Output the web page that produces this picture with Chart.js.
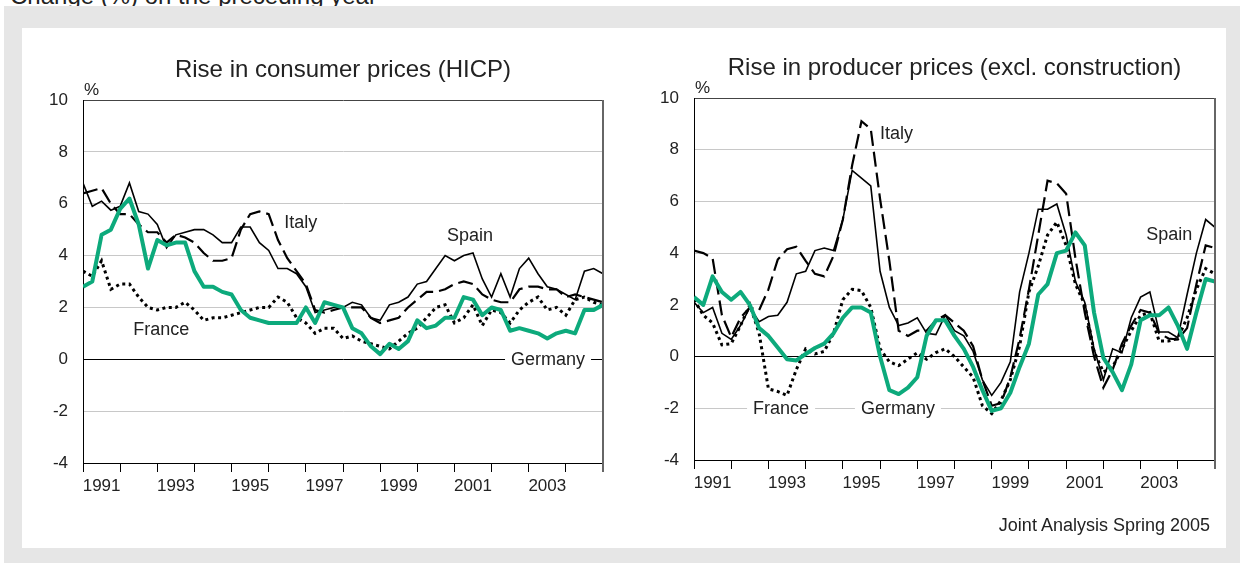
<!DOCTYPE html>
<html>
<head>
<meta charset="utf-8">
<title>Consumer and producer prices</title>
<script src="https://cdn.jsdelivr.net/npm/chart.js@4.4.0/dist/chart.umd.min.js"></script>
<style>
  body { margin: 0; background: #fff; font-family: "Liberation Sans", Arial, sans-serif; overflow: hidden; }
  #head { position: absolute; left: 10px; top: -16px; font-size: 24px; line-height: 24px; color: #222; white-space: nowrap; }
  #frame { position: absolute; left: 4px; top: 6px; width: 1236px; height: 557px; background: #e6e6e6; }
  #panel { position: absolute; left: 22px; top: 28px; width: 1204px; height: 520px; background: #fff; }
  canvas { position: absolute; }
  #hicp { left: 22px; top: 28px; }
  #ppi { left: 640px; top: 28px; }
  #note { position: absolute; left: 900px; width: 310px; top: 515px; line-height: 20px; text-align: right; font-size: 18px; color: #222; }
</style>
</head>
<body>
<div id="head">Change (%) on the preceding year</div>
<div id="frame"></div>
<div id="panel"></div>
<canvas id="hicp" width="618" height="520"></canvas>
<canvas id="ppi" width="582" height="520"></canvas>
<div id="note">Joint Analysis Spring 2005</div>
<script>
// quarterly readings, Q1 1991 .. Q1 2005 (57 values each)
var startYear = 1991;

// Rise in consumer prices (HICP)
var hicpGermany = [2.8,3.0,4.8,5.0,5.8,6.2,5.2,3.5,4.6,4.4,4.5,4.5,3.4,2.8,2.8,2.6,2.5,1.9,1.6,1.5,1.4,1.4,1.4,1.4,2.0,1.4,2.2,2.1,2.0,1.2,1.0,0.5,0.2,0.6,0.4,0.7,1.5,1.2,1.3,1.6,1.6,2.4,2.3,1.7,2.0,1.9,1.1,1.2,1.1,1.0,0.8,1.0,1.1,1.0,1.9,1.9,2.1];
var hicpSpain   = [6.8,5.9,6.1,5.75,5.9,6.8,5.7,5.6,5.2,4.3,4.8,4.9,5.0,5.0,4.8,4.5,4.5,5.1,5.1,4.5,4.2,3.5,3.5,3.3,2.8,1.8,1.9,2.0,2.0,2.2,2.1,1.6,1.5,2.1,2.2,2.4,2.9,3.0,3.5,4.0,3.8,4.0,4.1,3.1,2.4,3.3,2.4,3.5,3.9,3.3,2.8,2.7,2.5,2.3,3.4,3.5,3.3];
var hicpItaly   = [6.4,6.5,6.6,6.0,5.6,5.6,5.2,4.9,4.9,4.5,4.8,4.7,4.5,4.1,3.8,3.8,3.9,5.0,5.6,5.7,5.6,4.6,3.9,3.4,2.9,1.9,1.8,1.9,2.0,2.0,2.0,1.6,1.4,1.5,1.6,2.0,2.3,2.6,2.6,2.7,2.9,3.0,2.9,2.5,2.3,2.2,2.2,2.7,2.8,2.8,2.7,2.7,2.4,2.5,2.4,2.3,2.2];
var hicpFrance  = [3.4,3.2,3.8,2.7,2.9,2.9,2.4,2.0,1.9,2.0,2.0,2.2,1.9,1.5,1.6,1.6,1.7,1.8,1.9,2.0,2.0,2.4,2.2,1.6,1.4,1.0,1.2,1.2,0.8,0.9,0.7,0.6,0.5,0.4,0.7,1.0,1.2,1.6,2.0,2.1,1.4,1.6,2.1,1.3,1.9,1.8,1.4,1.9,2.2,2.4,1.9,2.0,1.7,2.3,2.4,2.2,2.1];

// Rise in producer prices (excl. construction)
var ppiGermany = [2.3,2.0,3.1,2.5,2.2,2.5,2.0,1.1,0.8,0.35,-0.1,-0.15,0.1,0.33,0.5,0.9,1.5,1.9,1.9,1.7,0.0,-1.3,-1.45,-1.2,-0.8,0.8,1.4,1.4,0.8,0.3,-0.4,-1.3,-2.1,-2.0,-1.4,-0.4,0.5,2.4,2.8,4.0,4.1,4.8,4.3,1.7,-0.05,-0.6,-1.3,-0.3,1.4,1.6,1.6,1.9,1.2,0.3,1.7,3.0,2.9];
var ppiSpain   = [2.1,1.7,1.9,0.9,0.66,1.2,1.9,1.35,1.55,1.6,2.1,3.2,3.3,4.1,4.2,4.1,5.3,7.2,6.9,6.6,3.3,1.9,1.2,1.3,1.5,0.9,0.85,1.6,1.0,0.8,0.2,-0.9,-1.5,-1.0,-0.2,2.5,4.0,5.7,5.7,5.9,4.7,2.9,2.1,0.3,-0.9,0.3,0.15,1.5,2.3,2.5,0.95,0.95,0.73,2.4,4.0,5.3,5.0];
var ppiItaly   = [4.1,4.0,3.8,1.6,0.75,1.5,1.9,1.8,2.6,3.75,4.15,4.25,3.7,3.2,3.1,3.9,5.3,7.4,9.1,8.8,6.1,3.7,1.0,0.8,1.0,1.0,1.4,1.6,1.3,1.0,0.4,-0.9,-1.9,-1.8,-0.8,0.7,2.6,4.7,6.8,6.7,6.3,3.8,1.7,0.0,-1.2,-0.5,0.5,1.2,1.8,1.7,0.9,0.7,0.66,1.1,2.8,4.3,4.2];
var ppiFrance  = [2.2,1.6,1.3,0.45,0.5,1.2,2.0,0.9,-1.25,-1.35,-1.5,-0.5,0.3,0.1,0.2,0.9,2.2,2.6,2.55,1.9,0.3,-0.2,-0.35,-0.1,0.15,-0.1,0.15,0.3,0.0,-0.4,-0.8,-1.9,-2.2,-1.7,-0.9,0.4,2.5,3.5,4.7,5.2,4.3,2.8,2.0,0.2,-0.6,-0.4,0.3,1.0,1.6,1.7,0.6,0.6,0.7,1.5,2.6,3.4,3.2];

// country names written inside the plots, anchored in data units
var hicpNames = [
  { text: 'Italy',   x: 1996.86, y: 5.3 },
  { text: 'Spain',   x: 2001.42, y: 4.8 },
  { text: 'France',  x: 1993.11, y: 1.16 },
  { text: 'Germany', x: 2003.52, y: 0, bg: true }
];
var ppiNames = [
  { text: 'Italy',   x: 1996.44, y: 8.65 },
  { text: 'Spain',   x: 2003.77, y: 4.75 },
  { text: 'France',  x: 1993.34, y: -2, bg: true },
  { text: 'Germany', x: 1996.48, y: -2, bg: true }
];

var yTicks = { min: -4, max: 10, step: 2 };
var fontFamily = '"Liberation Sans", Arial, Helvetica, sans-serif';
var green = '#0daa7c';

Chart.defaults.font.family = fontFamily;
Chart.defaults.color = '#222';

function toPoints(values) {
  return values.map(function(v, i) { return { x: startYear + i / 4, y: v }; });
}

function series(label, values, style) {
  var ds = {
    label: label,
    data: toPoints(values),
    borderColor: '#000',
    borderWidth: 1.6,
    pointRadius: 0,
    tension: 0,
    order: 1
  };
  if (style === 'dash') { ds.borderDash = [15, 6]; ds.borderWidth = 2.2; }
  if (style === 'dot') { ds.borderDash = [3, 3.5]; ds.borderWidth = 3; }
  if (style === 'green') { ds.borderColor = green; ds.borderWidth = 4; ds.order = 0; ds.borderJoinStyle = 'round'; }
  return ds;
}

// title, "%" sign, right frame line and the country names
var decor = {
  id: 'decor',
  afterDraw: function(chart, args, opts) {
    var ctx = chart.ctx, a = chart.chartArea;
    var x = chart.scales.x, y = chart.scales.y;
    ctx.save();
    ctx.strokeStyle = '#666';
    ctx.lineWidth = 2;
    ctx.beginPath();
    ctx.moveTo(a.right, a.top);
    ctx.lineTo(a.right, a.bottom + 9);
    ctx.stroke();

    ctx.textAlign = 'center';
    ctx.textBaseline = 'middle';
    ctx.fillStyle = '#222';
    ctx.font = '24px ' + fontFamily;
    ctx.fillText(opts.title, (a.left + a.right) / 2, a.top - 30);

    ctx.textAlign = 'left';
    ctx.font = '17px ' + fontFamily;
    ctx.fillText('%', a.left + 1, a.top - 10);

    ctx.textAlign = 'center';
    ctx.font = '18px ' + fontFamily;
    opts.names.forEach(function(n) {
      var px = x.getPixelForValue(n.x), py = y.getPixelForValue(n.y);
      if (n.bg) {
        var w = ctx.measureText(n.text).width;
        ctx.fillStyle = '#fff';
        ctx.fillRect(px - w / 2 - 6, py - 8, w + 12, 17);
      }
      ctx.fillStyle = '#222';
      ctx.fillText(n.text, px, py + 1);
    });
    ctx.restore();
  }
};

function makeChart(id, title, names, data, pad, axisW, axisH) {
  var ctx = document.getElementById(id).getContext('2d');
  return new Chart(ctx, {
    type: 'line',
    data: {
      datasets: [
        series('Germany', data[0], 'green'),
        series('Spain', data[1], 'solid'),
        series('Italy', data[2], 'dash'),
        series('France', data[3], 'dot')
      ]
    },
    options: {
      responsive: false,
      animation: false,
      layout: { padding: pad },
      plugins: {
        legend: { display: false },
        tooltip: { enabled: false },
        decor: { title: title, names: names }
      },
      scales: {
        x: {
          type: 'linear',
          min: 1991,
          max: 2005,
          afterFit: function(s) { s.height = axisH; },
          grid: { drawOnChartArea: false, drawTicks: true, tickLength: 9, color: '#000' },
          border: { color: '#000', width: 1 },
          ticks: {
            stepSize: 1,
            autoSkip: false,
            maxRotation: 0,
            labelOffset: 18.6,
            padding: 4,
            font: { size: 17 },
            callback: function(v) { return (v % 2 === 1 && v < 2005) ? String(v) : ''; }
          }
        },
        y: {
          min: yTicks.min,
          max: yTicks.max,
          afterFit: function(s) { s.width = axisW; },
          grid: {
            drawTicks: false,
            lineWidth: 1,
            color: function(c) {
              var v = c.tick.value;
              if (v === 0 || v === yTicks.min) return '#000';
              if (v === yTicks.max) return '#444';
              return '#c8c8c8';
            }
          },
          border: { color: '#000', width: 1 },
          ticks: { stepSize: yTicks.step, padding: 15, font: { size: 17 } }
        }
      }
    },
    plugins: [decor]
  });
}

window.onload = function() {
  makeChart('hicp', 'Rise in consumer prices (HICP)', hicpNames,
    [hicpGermany, hicpSpain, hicpItaly, hicpFrance],
    { top: 72, right: 37, bottom: 0, left: 0 }, 61, 85);
  makeChart('ppi', 'Rise in producer prices (excl. construction)', ppiNames,
    [ppiGermany, ppiSpain, ppiItaly, ppiFrance],
    { top: 70, right: 7, bottom: 0, left: 0 }, 54, 88);
};
</script>
</body>
</html>
